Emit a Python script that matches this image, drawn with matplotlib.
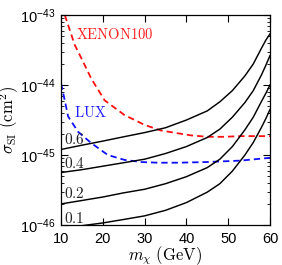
import matplotlib

matplotlib.use("Agg")

import matplotlib.pyplot as plt
from matplotlib.ticker import LogLocator, FixedLocator, NullFormatter

plt.rcParams["font.family"] = ["Liberation Sans", "DejaVu Sans"]

# Mass (GeV) and sigma_SI (cm^2)
x_06 = [10, 15, 20, 25, 30, 35, 40, 45, 48, 51, 54, 56, 58, 59, 60]
s_06 = [1.20e-45, 1.38e-45, 1.58e-45, 1.82e-45, 2.09e-45, 2.45e-45, 3.16e-45, 4.27e-45,
        5.75e-45, 8.32e-45, 1.35e-44, 2.00e-44, 3.39e-44, 4.37e-44, 5.37e-44]

x_04 = [10, 15, 20, 25, 30, 35, 40, 45, 48, 51, 54, 56, 58, 59, 60]
s_04 = [5.62e-46, 6.17e-46, 6.92e-46, 7.76e-46, 8.71e-46, 1.05e-45, 1.32e-45, 1.78e-45,
        2.34e-45, 3.47e-45, 5.62e-45, 8.32e-45, 1.41e-44, 1.91e-44, 2.63e-44]

x_02 = [10, 15, 20, 25, 30, 35, 40, 45, 48, 51, 54, 56, 58, 59, 60]
s_02 = [2.00e-46, 2.24e-46, 2.51e-46, 2.88e-46, 3.24e-46, 3.89e-46, 4.90e-46, 6.61e-46,
        8.71e-46, 1.32e-45, 2.29e-45, 3.47e-45, 5.89e-45, 7.59e-45, 1.00e-44]

x_01 = [13, 15, 20, 25, 30, 35, 40, 45, 48, 51, 54, 56, 58, 59, 60]
s_01 = [9.33e-47, 9.77e-47, 1.07e-46, 1.20e-46, 1.35e-46, 1.62e-46, 2.09e-46, 2.95e-46,
        3.89e-46, 5.89e-46, 1.00e-45, 1.51e-45, 2.51e-45, 3.31e-45, 4.47e-45]

x_xenon = [10.9, 13.3, 15.3, 17.25, 20.45, 25.2, 30, 33.9, 38, 41, 45, 49, 53, 60]
s_xenon = [1.00e-43, 3.72e-44, 2.14e-44, 1.23e-44, 6.03e-45, 3.72e-45, 2.69e-45,
           2.24e-45, 2.04e-45, 1.91e-45, 1.82e-45, 1.82e-45, 1.86e-45, 1.86e-45]

x_lux = [10, 10.9, 11.7, 14.1, 17.25, 21.2, 25.2, 29.2, 33.2, 38, 45, 53, 60]
s_lux = [1.05e-44, 6.03e-45, 3.55e-45, 2.14e-45, 1.48e-45, 1.00e-45, 8.51e-46,
         7.94e-46, 7.76e-46, 7.76e-46, 7.94e-46, 8.32e-46, 9.12e-46]

curve_labels = ["0.6", "0.4", "0.2", "0.1"]
label_y = [1.64e-45, 7.6e-46, 2.84e-46, 1.25e-46]

xticks = [10, 20, 30, 40, 50, 60]

fig = plt.figure(figsize=(2.82, 2.65), dpi=100)
ax = fig.add_axes([61 / 282, 1 - 225 / 265, 209 / 282, 210 / 265])

for xs, ss in ((x_06, s_06), (x_04, s_04), (x_02, s_02), (x_01, s_01)):
    ax.plot(xs, ss, color="black", lw=1.05, zorder=3)

ax.plot(x_xenon, s_xenon, color="#ff1010", lw=1.3, linestyle=(0, (3.5, 2.2)), zorder=2)
ax.plot(x_lux, s_lux, color="#1010ff", lw=1.3, linestyle=(0, (3.5, 2.2)), zorder=2)

ax.set_yscale("log")
ax.set_xlim(10, 60)
ax.set_ylim(1e-46, 1e-43)

ax.xaxis.set_major_locator(FixedLocator(xticks))
ax.yaxis.set_major_locator(LogLocator(base=10, numticks=10))
ax.yaxis.set_minor_locator(LogLocator(base=10, subs=range(2, 10), numticks=10))
ax.yaxis.set_minor_formatter(NullFormatter())

ax.tick_params(which="both", direction="in", top=True, right=True, labelsize=10.5)
ax.tick_params(which="major", length=5, width=0.8)
ax.tick_params(which="minor", length=2.5, width=0.6)
ax.tick_params(axis="x", pad=5)
ax.tick_params(axis="y", pad=4)
for sp in ax.spines.values():
    sp.set_linewidth(0.9)

for lab, ly in zip(curve_labels, label_y):
    ax.text(10.6, ly, r"$\mathrm{" + lab + "}$", math_fontfamily="cm",
            fontsize=11, color="#222222", va="center", ha="left")

ax.text(13.7, 5.3e-44, r"$\mathrm{XENON100}$", math_fontfamily="cm",
        fontsize=10.5, color="#ff2020", va="center", ha="left")
ax.text(13.2, 4.0e-45, r"$\mathrm{LUX}$", math_fontfamily="cm",
        fontsize=10.5, color="#2020ff", va="center", ha="left")

ax.set_xlabel(r"$m_\chi\ (\mathrm{GeV})$", math_fontfamily="cm", fontsize=12, labelpad=-1)
ax.set_ylabel(r"$\sigma_{\rm SI}\ (\mathrm{cm}^2)$", math_fontfamily="cm", fontsize=12, labelpad=-1)

fig.savefig("out.png", dpi=100)
